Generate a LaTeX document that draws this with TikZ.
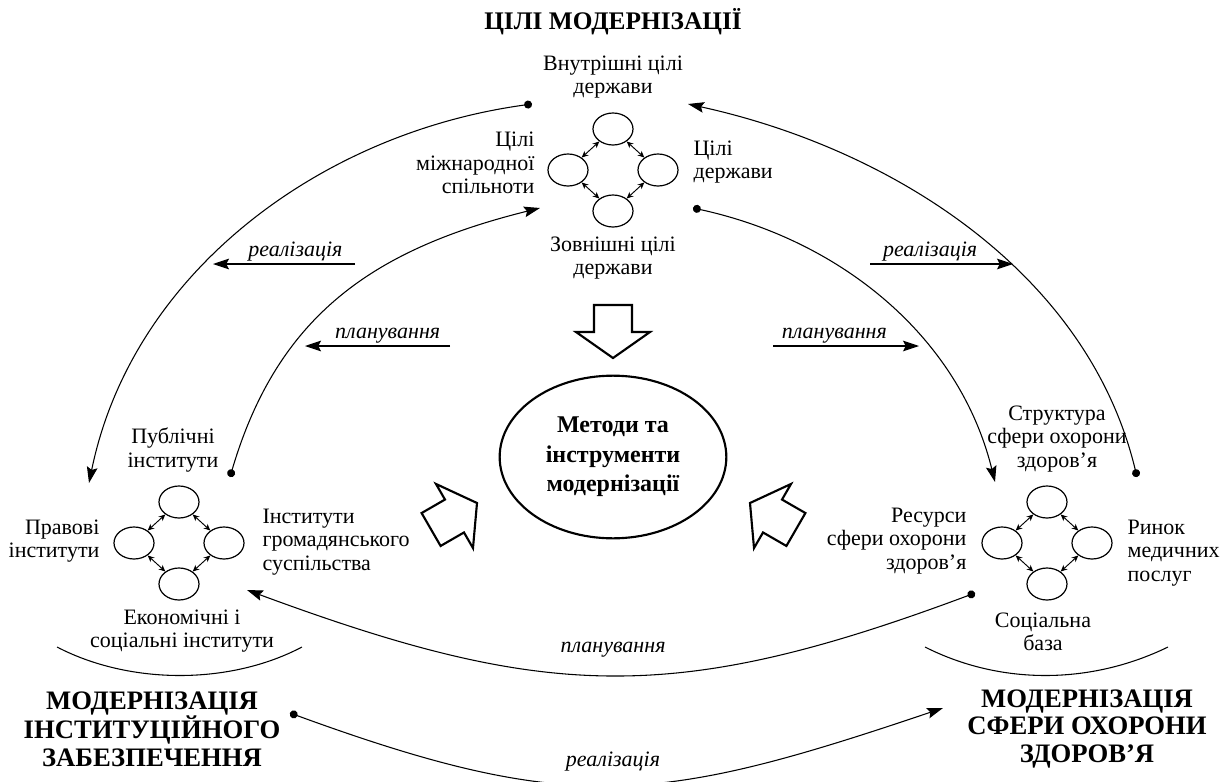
\documentclass[tikz,border=0pt]{standalone}
\usepackage{fontspec}
\setmainfont{Liberation Serif}
\usetikzlibrary{arrows.meta,shapes.geometric}

\tikzset{
    txt/.style={font=\fontsize{16.5}{17.5}\selectfont, inner sep=1pt},
    lbl/.style={font=\fontsize{16.5}{17.5}\selectfont\itshape, inner sep=2pt},
    ttl/.style={font=\bfseries\fontsize{20}{20.5}\selectfont, align=center, inner sep=1pt},
    sm/.style={ellipse, draw, line width=0.9pt, minimum width=30pt, minimum height=24pt, inner sep=0pt},
    bigell/.style={ellipse, draw, line width=1.6pt, minimum width=170pt, minimum height=122pt, inner sep=0pt, align=center, font=\bfseries\fontsize{18}{22}\selectfont},
    dbl/.style={line width=0.7pt, {Stealth[length=5pt,width=4.5pt]}-{Stealth[length=5pt,width=4.5pt]}},
    conn/.style={line width=0.8pt, {Circle[length=6pt]}-{Stealth[length=12pt,width=8pt,inset=2pt]}},
    harr/.style={line width=0.8pt, -{Stealth[length=12pt,width=8pt,inset=2pt]}},
    barr/.style={line width=1.6pt, line join=miter},
}

\begin{document}
\begin{tikzpicture}[x=0.75pt,y=-0.75pt]
    \useasboundingbox (0,0) rectangle (1229,782);
    %draw the three groups of circles
    \foreach \nm/\cx/\cy in {g/613/170,i/179/543,h/1047/543}
        {%
            \node[sm] (\nm-t) at (\cx,\cy-41) {};
            \node[sm] (\nm-b) at (\cx,\cy+41) {};
            \node[sm] (\nm-l) at (\cx-45,\cy) {};
            \node[sm] (\nm-r) at (\cx+45,\cy) {};
            \draw[dbl] (\nm-t) -- (\nm-l);
            \draw[dbl] (\nm-t) -- (\nm-r);
            \draw[dbl] (\nm-b) -- (\nm-l);
            \draw[dbl] (\nm-b) -- (\nm-r);
        }
    %draw texts of the goals
    \node[ttl, font=\bfseries\fontsize{19}{20}\selectfont] (g-ttl) at (613,22) {ЦІЛІ МОДЕРНІЗАЦІЇ};
    \node[txt, align=center] (g-in) at (613,77) {Внутрішні цілі\\держави};
    \node[txt, align=right, anchor=east] (g-int) at (536,163) {Цілі\\міжнародної\\спільноти};
    \node[txt, align=left, anchor=west] (g-st) at (692,162) {Цілі\\держави};
    \node[txt, align=center] (g-ex) at (613,258) {Зовнішні цілі\\держави};
    %draw texts of the institutions
    \node[txt, align=center] (i-pub) at (173,450) {Публічні\\інститути};
    \node[txt, align=right, anchor=east] (i-law) at (101,541) {Правові\\інститути};
    \node[txt, align=left, anchor=west] (i-civ) at (261,542) {Інститути\\громадянського\\суспільства};
    \node[txt, align=center] (i-eco) at (182,631) {Економічні і\\соціальні інститути};
    \node[ttl] (i-ttl) at (152,729) {МОДЕРНІЗАЦІЯ\\ІНСТИТУЦІЙНОГО\\ЗАБЕЗПЕЧЕННЯ};
    \draw[line width=0.8pt] (57,647) .. controls (130,685) and (230,685) .. (302,647);
    %draw texts of the health care
    \node[txt, align=center] (h-str) at (1057,439) {Структура\\сфери охорони\\здоров’я};
    \node[txt, align=right, anchor=east] (h-res) at (968,541) {Ресурси\\сфери охорони\\здоров’я};
    \node[txt, align=left, anchor=west] (h-mkt) at (1126,553) {Ринок\\медичних\\послуг};
    \node[txt, align=center] (h-soc) at (1043,632) {Соціальна\\база};
    \node[ttl] (h-ttl) at (1087,729) {МОДЕРНІЗАЦІЯ\\СФЕРИ ОХОРОНИ\\ЗДОРОВ’Я};
    \draw[line width=0.8pt] (925,647) .. controls (1000,685) and (1090,685) .. (1168,647);
    %draw the methods
    \node[bigell] (meth) at (613,457) {Методи та\\інструменти\\модернізації};
    \foreach \tx/\ty/\ang in {613/358/-90,477/503/30,750/503/150}
        {%
            \draw[barr,shift={(\tx,\ty)},rotate=\ang] (0,0) -- (-26,-37) -- (-26,-19) -- (-53,-19)
                -- (-53,19) -- (-26,19) -- (-26,37) -- cycle;
        }
    %draw end points of the links
    \coordinate (gL) at (532,104);
    \coordinate (iA) at (89,483);
    \coordinate (iB) at (230,477);
    \coordinate (gM) at (540,208);
    \coordinate (hA) at (1137,477);
    \coordinate (gR) at (688,104);
    \coordinate (gN) at (693,208);
    \coordinate (hB) at (995,482);
    \coordinate (hC) at (975,593);
    \coordinate (iC) at (247,590);
    \coordinate (iD) at (290,713);
    \coordinate (hD) at (943,708);
    %draw links
    \draw[conn] (gL) .. controls (320,133) and (132,273) .. (iA);
    \draw[conn] (iB) .. controls (278,314) and (375,249) .. (gM);
    \draw[conn] (hA) .. controls (1088,273) and (893,149) .. (gR);
    \draw[conn] (gN) .. controls (840,240) and (959,336) .. (hB);
    \draw[conn] (hC) .. controls (675,705) and (547,701) .. (iC);
    \draw[conn] (iD) .. controls (572,816) and (659,804) .. (hD);
    \node[lbl] (plan-c) at (613,650) {планування};
    \node[lbl] (real-c) at (613,762) {реалізація};
    %draw short arrows
    \coordinate (rl-s) at (355,264);
    \coordinate (rl-e) at (213,264);
    \coordinate (pl-s) at (450,346);
    \coordinate (pl-e) at (305,346);
    \coordinate (rr-s) at (870,264);
    \coordinate (rr-e) at (1013,264);
    \coordinate (pr-s) at (773,346);
    \coordinate (pr-e) at (919,346);
    \draw[harr] (rl-s) -- node[lbl,pos=0.42,above] (real-l) {реалізація} (rl-e);
    \draw[harr] (pl-s) -- node[lbl,pos=0.43,above] (plan-l) {планування} (pl-e);
    \draw[harr] (rr-s) -- node[lbl,pos=0.42,above] (real-r) {реалізація} (rr-e);
    \draw[harr] (pr-s) -- node[lbl,pos=0.42,above] (plan-r) {планування} (pr-e);
\end{tikzpicture}
\end{document}
